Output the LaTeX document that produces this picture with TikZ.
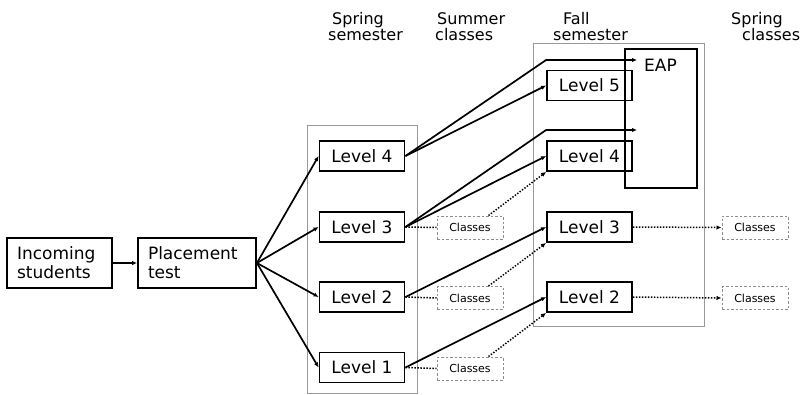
\documentclass[tikz,border=0pt]{standalone}
\usepackage{fontspec}
\setmainfont{DejaVu Sans}
\usetikzlibrary{arrows.meta,calc}
\begin{document}
\begin{tikzpicture}[x=1pt,y=-1pt,
  lvl/.style={draw, line width=1.8pt, minimum width=85pt, minimum height=30pt, inner sep=0pt, font=\fontsize{17}{19}\selectfont},
  bigbox/.style={draw, line width=1.8pt, minimum height=50pt, inner sep=0pt, align=left, font=\fontsize{17}{19}\selectfont},
  grp/.style={draw=gray!80, line width=1pt, inner sep=0pt},
  cls/.style={draw=gray!90, dash pattern=on 2.5pt off 2pt, line width=1pt, minimum width=66pt, minimum height=23pt, inner sep=0pt, font=\fontsize{11}{12}\selectfont},
  hdr/.style={anchor=base west, inner sep=0pt, font=\fontsize{16}{18}\selectfont},
  arr/.style={line width=1.7pt, -{Latex[length=5pt,width=4.5pt]}},
  dotl/.style={line width=1.5pt, dash pattern=on 1.4pt off 1.6pt},
  darr/.style={dotl, -{Latex[length=5pt,width=4.5pt]}}
]
\useasboundingbox (0,0) rectangle (804,394);

% headers
\node[hdr] (h1a) at (332,24) {Spring};
\node[hdr] (h1b) at (328,40) {semester};
\node[hdr] (h2a) at (437,24) {Summer};
\node[hdr] (h2b) at (435,40) {classes};
\node[hdr] (h3a) at (563,24) {Fall};
\node[hdr] (h3b) at (553,40) {semester};
\node[hdr] (h4a) at (731,24) {Spring};
\node[hdr] (h4b) at (742,40) {classes};

% group boxes
\node[grp, minimum width=110pt, minimum height=268pt] (sgrp) at (362,259) {};
\node[grp, minimum width=171pt, minimum height=283pt] (fgrp) at (618.5,184.5) {};
\node[draw, line width=1.8pt, minimum width=72pt, minimum height=139pt, inner sep=0pt] (eap) at (661,118.5) {};
\node[anchor=base west, inner sep=0pt, font=\fontsize{17}{19}\selectfont] (eapt) at (644,71) {EAP};

% left boxes
\node[bigbox, minimum width=105pt, text width=85pt] (inc) at (59.5,263) {Incoming\\students};
\node[bigbox, minimum width=118pt, text width=98pt] (pt) at (197,263) {Placement\\test};

% spring levels
\node[lvl] (s4) at (362,156) {Level 4};
\node[lvl] (s3) at (362,227) {Level 3};
\node[lvl] (s2) at (362,297) {Level 2};
\node[lvl] (s1) at (362,367.5) {Level 1};

% summer classes
\node[cls] (c3) at (470,227.5) {Classes};
\node[cls] (c2) at (470,298) {Classes};
\node[cls] (c1) at (470,368.5) {Classes};

% fall levels
\node[lvl] (f5) at (589.5,85.5) {Level 5};
\node[lvl] (f4) at (589.5,156) {Level 4};
\node[lvl] (f3) at (589.5,227) {Level 3};
\node[lvl] (f2) at (589.5,297) {Level 2};

% spring classes
\node[cls] (k3) at (755,227.5) {Classes};
\node[cls] (k2) at (755,298) {Classes};

% EAP entry points
\coordinate (ea) at (637,60);
\coordinate (eb) at (637,130);

% connectors
\draw[arr] (inc) -- (pt);
\draw[arr] (pt.east) -- (s4.west);
\draw[arr] (pt.east) -- (s3.west);
\draw[arr] (pt.east) -- (s2.west);
\draw[arr] (pt.east) -- (s1.west);

\draw[arr] (s4.east) -- (f5.west |- ea) -- (ea);
\draw[arr] (s4.east) -- (f5.west);
\draw[arr] (s3.east) -- (f5.west |- eb) -- (eb);
\draw[arr] (s3.east) -- (f4.west);
\draw[arr] (s2.east) -- (f3.west);
\draw[arr] (s1.east) -- (f2.west);

\draw[dotl] (s3.east) -- (c3.west);
\draw[dotl] (s2.east) -- (c2.west);
\draw[dotl] (s1.east) -- (c1.west);
\draw[darr] ($(c3.north east)+(-15,0)$) -- (f4.south west);
\draw[darr] ($(c2.north east)+(-15,0)$) -- (f3.south west);
\draw[darr] ($(c1.north east)+(-15,0)$) -- (f2.south west);

\draw[darr] (f3.east) -- (k3.west);
\draw[darr] (f2.east) -- (k2.west);
\end{tikzpicture}
\end{document}
